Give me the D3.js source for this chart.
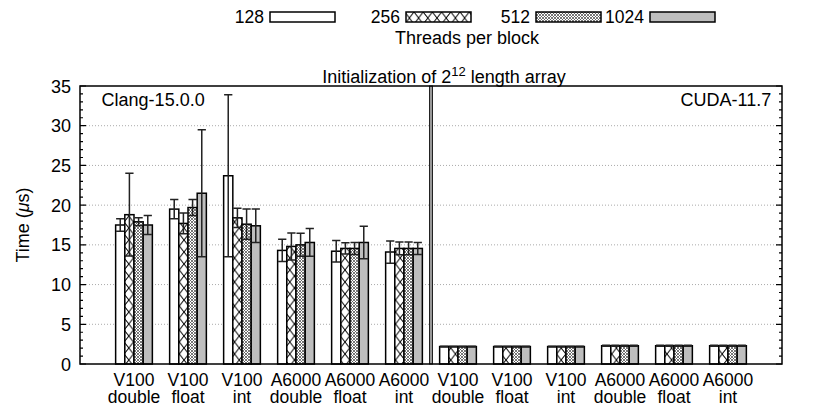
<!DOCTYPE html>
<html>
<head>
<meta charset="utf-8">
<script src="https://cdn.jsdelivr.net/npm/d3@7"></script>
<style>
  body { margin: 0; background: #fff; }
  svg text { font-family: "Liberation Sans", Arial, sans-serif; fill: #000; }
</style>
</head>
<body>
<svg id="chart" width="814" height="407"></svg>
<script>
// categories (x groups)
const devices = ["V100", "V100", "V100", "A6000", "A6000", "A6000",
                 "V100", "V100", "V100", "A6000", "A6000", "A6000"];
const types = ["double", "float", "int", "double", "float", "int",
               "double", "float", "int", "double", "float", "int"];
const threads = ["128", "256", "512", "1024"];

// mean time (us) per threads-per-block series, one value per group
const t128  = [17.5, 19.5, 23.7, 14.3, 14.2, 14.1, 2.2, 2.2, 2.2, 2.3, 2.3, 2.3];
const t256  = [18.8, 17.7, 18.4, 14.8, 14.55, 14.55, 2.2, 2.2, 2.2, 2.3, 2.3, 2.3];
const t512  = [17.9, 19.7, 17.6, 15.0, 14.55, 14.55, 2.2, 2.2, 2.2, 2.3, 2.3, 2.3];
const t1024 = [17.5, 21.5, 17.4, 15.3, 15.3, 14.55, 2.2, 2.2, 2.2, 2.3, 2.3, 2.3];

// error (+/-)
const e128  = [0.8, 1.2, 10.2, 1.4, 1.35, 1.4, 0.05, 0.05, 0.05, 0.05, 0.05, 0.05];
const e256  = [5.2, 1.3, 1.2, 1.7, 0.7, 0.8, 0.05, 0.05, 0.05, 0.05, 0.05, 0.05];
const e512  = [0.5, 1.0, 1.9, 1.45, 0.75, 0.8, 0.05, 0.05, 0.05, 0.05, 0.05, 0.05];
const e1024 = [1.2, 8.0, 2.1, 1.75, 2.05, 0.75, 0.05, 0.05, 0.05, 0.05, 0.05, 0.05];

const panelLabels = ["Clang-15.0.0", "CUDA-11.7"];

const means = [t128, t256, t512, t1024];
const errs = [e128, e256, e512, e1024];

const svg = d3.select("#chart");
const pLeft = 80, pRight = 782, pTop = 86, pBottom = 364;
const fs = 18;

const x = d3.scaleLinear().domain([-1, 12]).range([pLeft, pRight]);
const y = d3.scaleLinear().domain([0, 35]).range([pBottom, pTop]);
const boxW = 0.17;

// patterns
const defs = svg.append("defs");
const p1 = defs.append("pattern").attr("id", "cross").attr("patternUnits", "userSpaceOnUse")
	.attr("width", 9.2).attr("height", 12);
p1.append("rect").attr("width", 9.2).attr("height", 12).attr("fill", "#fff");
p1.append("path").attr("d", "M0,0L9.2,12M9.2,0L0,12").attr("stroke", "#000").attr("stroke-width", 1);
const p2 = defs.append("pattern").attr("id", "fine").attr("patternUnits", "userSpaceOnUse")
	.attr("width", 3).attr("height", 3);
p2.append("rect").attr("width", 3).attr("height", 3).attr("fill", "#fff");
p2.append("path").attr("d", "M0,0L3,3M3,0L0,3").attr("stroke", "#555").attr("stroke-width", 0.8);

const fills = ["#fff", "url(#cross)", "url(#fine)", "#bebebe"];

// grid
svg.append("g").selectAll("line")
	.data(d3.range(5, 35, 5))
	.enter().append("line")
	.attr("x1", pLeft).attr("x2", pRight)
	.attr("y1", d => y(d)).attr("y2", d => y(d))
	.attr("stroke", "#aaa").attr("stroke-width", 1).attr("stroke-dasharray", "1,2");

// bars
means.forEach((series, j) => {
	const g = svg.append("g");
	series.forEach((v, i) => {
		const xc = i + (j - 1.5) * boxW;
		const x0 = x(xc - boxW / 2), x1 = x(xc + boxW / 2);
		g.append("rect")
			.attr("x", x0).attr("y", y(v))
			.attr("width", x1 - x0).attr("height", y(0) - y(v))
			.attr("fill", fills[j]).attr("stroke", "#000").attr("stroke-width", 1.5);
		const e = errs[j][i];
		const cx = x(xc), cw = (x1 - x0) * 0.45;
		const hi = Math.min(v + e, 35);
		g.append("path")
			.attr("d", `M${cx},${y(v - e)}L${cx},${y(hi)}M${cx - cw},${y(hi)}L${cx + cw},${y(hi)}M${cx - cw},${y(v - e)}L${cx + cw},${y(v - e)}`)
			.attr("stroke", "#222").attr("stroke-width", 1.5).attr("fill", "none");
	});
});

// divider between the two panels
svg.append("rect")
	.attr("x", x(5.5) - 1.5).attr("y", pTop).attr("width", 3).attr("height", pBottom - pTop)
	.attr("fill", "#999").attr("stroke", "#222").attr("stroke-width", 1);

// frame
svg.append("rect").attr("x", pLeft).attr("y", pTop).attr("width", pRight - pLeft).attr("height", pBottom - pTop)
	.attr("fill", "none").attr("stroke", "#000").attr("stroke-width", 1.5);

// y ticks on both sides (inward), major every 5, minor every 1
const ticks = d3.range(0, 36, 1);
svg.append("g").selectAll("path")
	.data(ticks)
	.enter().append("path")
	.attr("d", d => {
		const len = d % 5 === 0 ? 6 : 3;
		return `M${pLeft},${y(d)}L${pLeft + len},${y(d)}M${pRight},${y(d)}L${pRight - len},${y(d)}`;
	})
	.attr("stroke", "#000").attr("stroke-width", 1.2);

svg.append("g").selectAll("text")
	.data(d3.range(0, 36, 5))
	.enter().append("text")
	.attr("x", pLeft - 9).attr("y", d => y(d) + 6.5)
	.attr("text-anchor", "end").attr("font-size", fs)
	.text(d => d);

// x labels (two lines in one text)
const xl = svg.append("g").attr("font-size", 17.5);
devices.forEach((d, i) => {
	const t = xl.append("text").attr("y", 386).attr("text-anchor", "middle");
	t.append("tspan").attr("x", x(i)).text(d);
	t.append("tspan").attr("x", x(i)).attr("dy", 17).text(types[i]);
});

// y label
svg.append("text")
	.attr("transform", `translate(29,${(pTop + pBottom) / 2}) rotate(-90)`)
	.attr("text-anchor", "middle").attr("font-size", fs)
	.html('Time (<tspan font-style="italic">μ</tspan>s)');

// panel labels
svg.append("text").attr("x", x(-0.6)).attr("y", pTop + 20).attr("font-size", fs).text(panelLabels[0]);
svg.append("text").attr("x", x(11.8)).attr("y", pTop + 20).attr("text-anchor", "end").attr("font-size", fs).text(panelLabels[1]);

// title
svg.append("text").attr("x", 444).attr("y", 83).attr("text-anchor", "middle").attr("font-size", fs)
	.html('Initialization of 2<tspan dy="-7" font-size="13">12</tspan><tspan dy="7"> length array</tspan>');

// legend
const legendX = [270, 406, 536, 650];
threads.forEach((t, j) => {
	svg.append("text").attr("x", legendX[j] - 6).attr("y", 23).attr("text-anchor", "end").attr("font-size", 17.5).text(t);
	svg.append("rect").attr("x", legendX[j]).attr("y", 12).attr("width", 65).attr("height", 10)
		.attr("fill", fills[j]).attr("stroke", "#000").attr("stroke-width", 1.5);
});
svg.append("text").attr("x", 467).attr("y", 44).attr("text-anchor", "middle").attr("font-size", fs).text("Threads per block");
</script>
</body>
</html>
